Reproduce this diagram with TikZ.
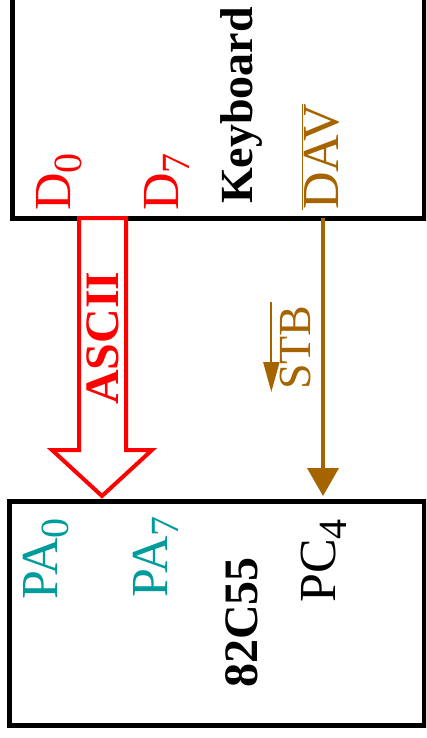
\documentclass[tikz,border=0pt]{standalone}
\usepackage{fontspec}
\setmainfont{Liberation Serif}
\usetikzlibrary{arrows.meta}
\definecolor{dbrown}{RGB}{166,100,0}
\definecolor{pteal}{RGB}{0,155,155}
\newcommand{\pinsub}[1]{\raisebox{-11pt}{\fontsize{40}{40}\selectfont #1}}
\begin{document}
\begin{tikzpicture}[x=1pt,y=-1pt,line join=miter,
	chip/.style={draw,line width=5pt,inner sep=0,outer sep=0},
	pin/.style={rotate=90,anchor=base west,inner sep=0,font=\fontsize{52}{60}\selectfont},
	title/.style={rotate=90,anchor=base west,inner sep=0,font=\fontsize{48}{56}\selectfont\bfseries},
	sig/.style={dbrown,line width=4pt,-{Triangle[width=31pt,length=28pt]}}]
	\useasboundingbox (0,0) rectangle (426,738);
	\clip (0,0) rectangle (426,738);
	% the two chips
	\node[chip,minimum width=412pt,minimum height=320pt,anchor=south west] (kbd) at (12,218) {};
	\node[chip,minimum width=415pt,minimum height=224pt,anchor=north west] (ppi) at (9,501) {};
	% data bus
	\draw[red,line width=4pt,fill=white] ([xshift=67pt]kbd.south west) -- (79,450) -- (52,450) -- (102,496) -- (152,450) -- (126,450) -- ([xshift=114pt]kbd.south west) -- cycle;
	% handshake line
	\coordinate (stbend) at (323,496);
	\draw[sig] (kbd.south -| stbend) -- (stbend);
	% labels
	\node[pin,red] (d0) at (70,211) {D\pinsub{0}};
	\node[pin,red] (d7) at (178,211) {D\pinsub{7}};
	\node[title,font=\fontsize{46}{54}\selectfont\bfseries] (kname) at (252,204) {Keyboard};
	\node[pin,dbrown] (dav) at (338,210) {$\overline{\hbox{DAV}}$};
	\node[title,red] (ascii) at (118,405) {ASCII};
	\node[pin,dbrown,font=\fontsize{46}{50}\selectfont] (stb) at (310,390) {STB};
	\draw[dbrown,line width=2pt,-{Triangle[width=16pt,length=30pt]}] ([xshift=-8pt,yshift=3pt]stb.north east) -- ([xshift=-8pt,yshift=-2pt]stb.north west);
	\node[pin,pteal] (pa0) at (57,600) {PA\pinsub{0}};
	\node[pin,pteal] (pa7) at (167,598) {PA\pinsub{7}};
	\node[title] (pname) at (257,688) {82C55};
	\node[pin] (pc4) at (335,603) {PC\pinsub{4}};
\end{tikzpicture}
\end{document}
